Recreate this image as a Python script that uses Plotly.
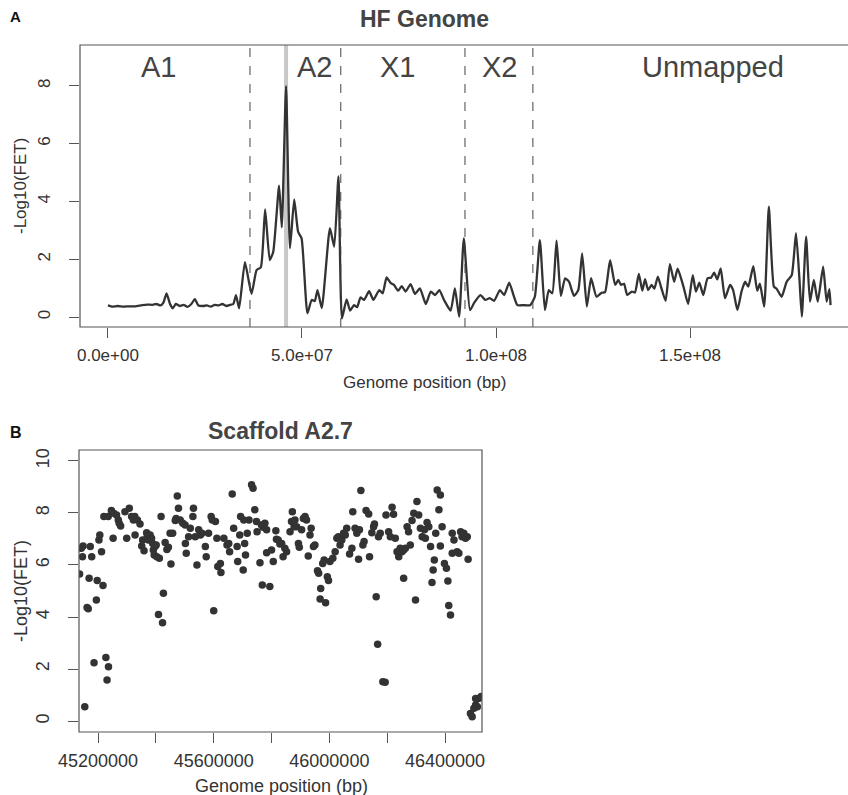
import plotly.graph_objects as go

# ---------------- Panel A data: HF genome (-log10 FET along genome) ----------------
hf_pos_mb = [0.0, 1.0, 2.5, 4.0, 5.5, 7.0, 8.5, 10.0, 11.5, 12.5, 13.5, 14.3, 15.1, 16.0, 16.7,
             17.5, 18.5, 19.5, 20.5, 21.5, 22.4, 23.3, 24.5, 25.5, 26.5, 27.5, 28.5, 29.5, 30.5,
             31.5, 32.3, 33.0, 33.8, 35.3, 37.0, 38.3, 39.4, 40.5, 41.7, 42.6, 44.1, 44.8, 45.9,
             46.9, 48.0, 49.0, 49.9, 51.4, 52.5, 53.3, 54.0, 55.1, 57.2, 58.3, 59.4, 60.3, 61.5,
             62.4, 63.4, 64.2, 65.1, 66.0, 67.3, 68.4, 69.9, 70.8, 71.8, 72.9, 73.7, 74.8, 75.7,
             76.7, 78.0, 79.1, 80.4, 81.9, 83.2, 84.3, 85.4, 86.6, 88.3, 89.4, 90.5, 91.7, 93.3,
             94.4, 96.0, 97.2, 98.4, 99.5, 101.0, 102.1, 103.4, 104.5, 105.5, 107.0, 108.8, 110.0,
             111.3, 112.6, 113.6, 114.5, 115.6, 116.7, 117.8, 118.8, 120.1, 121.2, 122.2, 123.4,
             124.5, 125.9, 127.2, 128.1, 129.4, 130.7, 131.5, 132.2, 133.0, 133.8, 135.0, 135.8,
             136.8, 137.7, 138.4, 139.2, 140.1, 140.8, 141.7, 142.5, 143.7, 144.8, 145.9, 146.8,
             148.3, 149.5, 150.7, 151.5, 152.4, 153.4, 154.5, 155.4, 156.2, 157.0, 157.9, 159.0,
             160.3, 161.1, 162.2, 163.3, 164.2, 165.0, 166.3, 167.3, 168.0, 169.1, 170.3, 171.6,
             172.3, 173.6, 174.9, 176.2, 177.3, 178.2, 178.8, 179.9, 180.9, 181.9, 182.9, 184.3,
             185.2, 185.9, 186.2]
hf_logp = [0.40, 0.36, 0.38, 0.36, 0.37, 0.37, 0.40, 0.43, 0.42, 0.45, 0.40, 0.50, 0.82, 0.45, 0.30,
           0.45, 0.38, 0.42, 0.35, 0.45, 0.62, 0.40, 0.38, 0.40, 0.36, 0.42, 0.40, 0.45, 0.38,
           0.42, 0.45, 0.76, 0.30, 1.90, 0.80, 1.62, 1.72, 3.72, 1.97, 2.26, 4.54, 3.10, 7.99,
           2.38, 4.07, 2.95, 2.72, 0.13, 0.59, 0.55, 0.93, 0.31, 3.07, 2.43, 4.86, -0.05, 0.61,
           0.22, 0.41, 0.34, 0.68, 0.59, 0.89, 0.59, 0.93, 0.82, 1.37, 1.17, 1.11, 0.91, 1.07,
           0.88, 1.14, 0.80, 0.99, 0.45, 0.88, 0.76, 0.93, 0.59, 0.22, 0.99, 0.01, 2.72, 0.24,
           0.50, 0.76, 0.59, 0.65, 0.56, 0.93, 0.76, 1.19, 0.76, 0.41, 0.41, 0.41, 0.70,
           2.66, 0.24, 0.93, 0.82, 2.64, 0.73, 1.34, 1.22, 0.73, 0.93, 2.20, 0.36,
           1.34, 0.70, 0.84, 0.86, 1.97, 1.11, 1.28, 1.11, 1.15, 0.76, 0.88, 0.85,
           1.49, 0.91, 1.31, 0.93, 1.11, 0.98, 1.40, 1.05, 0.56, 1.83, 1.22, 1.67,
           1.05, 0.45, 1.45, 0.88, 1.19, 0.76, 1.34, 1.36, 1.53, 1.30, 1.68, 0.65,
           1.11, 0.93, 0.24, 0.90, 1.22, 1.05, 1.76, 0.91, 1.15, 0.36, 3.82, 1.05,
           0.98, 0.70, 1.22, 1.45, 2.90, 1.28, 0.01, 2.78, 0.53, 1.28, 0.53, 1.74,
           0.53, 0.96, 0.41]

region_names = ["A1", "A2", "X1", "X2", "Unmapped"]
region_label_mb = [12.9, 53.3, 74.7, 101.0, 155.9]
region_bounds_mb = [36.6, 60.0, 92.0, 109.5]
scaffold_mark_mb = 45.9

hf_xticks = [0, 5e7, 1e8, 1.5e8]
hf_xticktext = ["0.0e+00", "5.0e+07", "1.0e+08", "1.5e+08"]
hf_yticks = [0, 2, 4, 6, 8]

# ---------------- Panel B data: Scaffold A2.7 points (position kb, -log10 FET) ----------------
sc_pos_kb = [45136, 45148, 45146, 45142, 45154, 45162, 45166, 45169, 45173, 45178, 45186, 45194,
             45197, 45203, 45206, 45212, 45217, 45220, 45227, 45236, 45231, 45235, 45246, 45254,
             45252, 45264, 45270, 45273, 45278, 45293, 45308, 45299, 45316, 45322, 45327, 45328,
             45336, 45345, 45351, 45354, 45359, 45368, 45370, 45374, 45380, 45385, 45389, 45391,
             45394, 45397, 45401, 45403, 45409, 45412, 45418, 45423, 45426, 45432, 45438, 45443,
             45452, 45449, 45458, 45467, 45470, 45474, 45478, 45484, 45493, 45501, 45502, 45505,
             45513, 45519, 45530, 45528, 45536, 45542, 45548, 45554, 45559, 45571, 45574, 45582,
             45591, 45595, 45600, 45606, 45611, 45614, 45623, 45625, 45635, 45646, 45652, 45655,
             45664, 45669, 45681, 45683, 45690, 45693, 45704, 45710, 45716, 45722, 45702, 45707,
             45731, 45736, 45742, 45748, 45750, 45760, 45765, 45771, 45777, 45783, 45768, 45783,
             45794, 45806, 45800, 45815, 45817, 45823, 45829, 45835, 45840, 45846, 45852, 45864,
             45869, 45872, 45878, 45881, 45887, 45893, 45896, 45904, 45910, 45916, 45921, 45927,
             45933, 45937, 45945, 45950, 45959, 45963, 45970, 45968, 45987, 45977, 45982, 45993,
             45997, 46002, 46012, 46020, 46026, 46031, 46037, 46043, 46049, 46055, 46060, 46070,
             46078, 46081, 46089, 46095, 46104, 46109, 46101, 46116, 46120, 46127, 46136, 46139,
             46147, 46153, 46156, 46162, 46167, 46170, 46176, 46185, 46193, 46196, 46205, 46211,
             46217, 46222, 46228, 46234, 46240, 46245, 46251, 46257, 46263, 46257, 46269, 46274,
             46280, 46286, 46292, 46303, 46309, 46298, 46315, 46321, 46329, 46332, 46338, 46344,
             46350, 46355, 46359, 46363, 46373, 46384, 46379, 46368, 46384, 46390, 46398, 46405,
             46410, 46413, 46419, 46425, 46431, 46425, 46442, 46448, 46454, 46459, 46465, 46471,
             46477, 46480, 46488, 46494, 46500, 46506, 46512, 46506, 46517, 46525]
sc_logp = [5.65, 6.73, 6.32, 6.64, 0.55, 4.37, 4.32, 5.49, 6.71, 6.32, 2.24, 4.65,
           5.40, 6.96, 7.15, 6.51, 5.21, 7.86, 2.44, 2.09, 1.58, 7.86, 8.09, 7.99,
           7.03, 7.92, 7.73, 7.60, 7.50, 8.05, 8.18, 7.03, 7.86, 7.73, 7.86, 7.15,
           7.73, 7.58, 6.73, 6.96, 6.55, 7.24, 7.09, 6.96, 7.15, 7.03, 6.83, 6.58,
           6.38, 6.71, 6.77, 6.32, 4.10, 6.26, 7.86, 3.78, 4.91, 6.86, 6.60, 6.68,
           6.04, 7.22, 7.22, 7.71, 7.79, 8.65, 8.18, 7.73, 7.60, 7.54, 6.83, 6.45,
           7.09, 7.41, 8.18, 7.86, 7.09, 6.00, 7.35, 7.15, 7.22, 6.71, 6.32, 7.22,
           7.86, 7.73, 4.24, 7.67, 7.03, 5.94, 6.06, 5.71, 7.03, 6.77, 6.83, 6.51,
           8.73, 7.41, 6.71, 6.13, 7.15, 7.86, 7.73, 6.38, 7.22, 7.73, 5.81, 6.83,
           9.08, 8.95, 8.12, 7.67, 7.28, 6.09, 7.54, 7.45, 7.60, 7.35, 5.23, 6.47,
           5.17, 6.13, 6.58, 7.32, 6.99, 6.96, 6.81, 6.83, 6.32, 6.64, 6.51, 7.28,
           7.67, 8.05, 7.47, 7.73, 7.47, 6.83, 6.68, 7.35, 7.79, 7.86, 7.73, 6.35,
           7.15, 7.41, 6.71, 6.77, 5.78, 5.68, 5.10, 4.69, 4.55, 6.06, 6.19, 5.55,
           5.40, 6.13, 6.26, 6.51, 7.03, 7.09, 6.77, 6.96, 7.22, 7.15, 7.41, 6.42,
           6.64, 8.05, 7.41, 7.22, 7.35, 8.86, 6.22, 6.77, 6.90, 8.09, 7.96, 6.32,
           7.24, 7.47, 7.58, 4.78, 2.95, 7.09, 7.22, 1.51, 1.49, 7.92, 7.28, 7.09,
           8.22, 7.95, 7.03, 6.51, 6.32, 6.64, 6.51, 6.58, 6.64, 5.49, 7.47, 7.28,
           6.77, 7.71, 7.99, 8.44, 7.92, 4.65, 7.41, 7.09, 7.35, 7.03, 7.63, 7.47,
           6.71, 5.33, 5.81, 6.19, 8.88, 8.69, 8.12, 7.22, 6.73, 7.47, 6.06, 5.87,
           5.38, 4.44, 4.08, 7.22, 6.96, 6.45, 6.51, 6.45, 7.28, 7.09, 7.22, 7.03,
           7.09, 6.22, 0.29, 0.17, 0.49, 0.62, 0.55, 0.87, 0.87, 0.94]

sc_xticks = [45200000, 45400000, 45600000, 45800000, 46000000, 46200000, 46400000]
sc_xticktext = ["45200000", "", "45600000", "", "46000000", "", "46400000"]
sc_yticks = [0, 2, 4, 6, 8, 10]

# ---------------- Layout geometry (pixels) ----------------
W, H = 848, 795
def px(x): return x / W
def py(y): return (H - y) / H

INK = "#333333"
FRAME = "#555555"
FONT = "Liberation Sans, Arial, sans-serif"

fig = go.Figure()

fig.add_trace(go.Scatter(
    x=[p * 1e6 for p in hf_pos_mb], y=hf_logp, mode="lines",
    line=dict(color=INK, width=2.3, shape="spline", smoothing=0.5),
    xaxis="x", yaxis="y", showlegend=False, hoverinfo="skip"))

fig.add_trace(go.Scatter(
    x=[k * 1000 for k in sc_pos_kb], y=sc_logp, mode="markers",
    marker=dict(color=INK, size=7.5, line=dict(width=0)),
    xaxis="x2", yaxis="y2", showlegend=False, hoverinfo="skip", cliponaxis=True))

axis_common = dict(showgrid=False, zeroline=False, ticks="outside", ticklen=10,
                   tickcolor=FRAME, tickwidth=1, showline=False, automargin=False)

fontA = dict(family=FONT, size=17, color=INK)
fontB = dict(family=FONT, size=18, color=INK)

fig.update_layout(
    width=W, height=H, margin=dict(l=0, r=0, t=0, b=0, pad=0, autoexpand=False),
    paper_bgcolor="white", plot_bgcolor="white",
    xaxis=dict(domain=[px(80), 1.0], range=[-7.2e6, 190.7e6], anchor="y",
               tickvals=hf_xticks, ticktext=hf_xticktext, ticklabelstandoff=3,
               tickfont=fontA, **axis_common),
    yaxis=dict(domain=[py(327), py(45)], range=[-0.346, 9.41], anchor="x",
               tickvals=hf_yticks, tickangle=-90, ticklabelstandoff=12,
               tickfont=fontA, **axis_common),
    xaxis2=dict(domain=[px(79), px(482)], range=[45134000, 46528000], anchor="y2",
                tickvals=sc_xticks, ticktext=sc_xticktext, ticklabelstandoff=2,
                tickfont=fontB, **axis_common),
    yaxis2=dict(domain=[py(732), py(450)], range=[-0.42, 10.42], anchor="x2",
                tickvals=sc_yticks, tickangle=-90, ticklabelstandoff=12,
                tickfont=fontB, **axis_common),
)

shapes = []
# scaffold marker (grey band) in panel A
shapes.append(dict(type="line", xref="x", yref="paper", x0=scaffold_mark_mb * 1e6,
                   x1=scaffold_mark_mb * 1e6, y0=py(327), y1=py(45),
                   line=dict(color="#c8c8c8", width=4), layer="below"))
for b in region_bounds_mb:
    shapes.append(dict(type="line", xref="x", yref="paper", x0=b * 1e6, x1=b * 1e6,
                       y0=py(327), y1=py(45), line=dict(color="#444444", width=1, dash="dash")))
# panel A frame (right side runs off the image)
shapes.append(dict(type="rect", xref="paper", yref="paper", x0=px(80), x1=1.02,
                   y0=py(327), y1=py(45), line=dict(color=FRAME, width=1.2)))
# panel B frame
shapes.append(dict(type="rect", xref="paper", yref="paper", x0=px(79), x1=px(482),
                   y0=py(732), y1=py(450), line=dict(color=FRAME, width=1.2)))
fig.update_layout(shapes=shapes)


def note(text, x, y, size, color=INK, xref="paper", angle=0):
    return dict(text=text, x=x, y=y, xref=xref, yref="paper", showarrow=False,
                xanchor="center", yanchor="middle", textangle=angle,
                font=dict(family=FONT, size=size, color=color))


ann = []
for name, xm in zip(region_names, region_label_mb):
    ann.append(note(name, xm * 1e6, py(67), 29, "#444444", xref="x"))
ann += [
    note("<b>HF Genome</b>", px(425), py(19), 23, "#444444"),
    note("<b>Scaffold A2.7</b>", px(280), py(431), 23, "#444444"),
    note("<b>A</b>", px(15), py(17), 15, "#111111"),
    note("<b>B</b>", px(16), py(432), 16, "#111111"),
    note("Genome position (bp)", px(425), py(382), 17),
    note("Genome position (bp)", px(281), py(786), 18),
    note("-Log10(FET)", px(21), py(186), 17, angle=-90),
    note("-Log10(FET)", px(21), py(591), 18, angle=-90),
]
fig.update_layout(annotations=ann)

fig.write_html("out.html", config={"displayModeBar": False},
               post_script="document.body.style.margin='0';document.body.style.overflow='hidden';")
